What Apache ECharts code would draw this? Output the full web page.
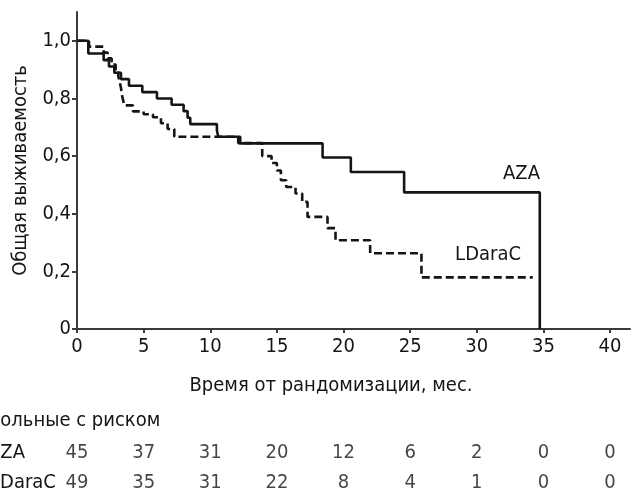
<!DOCTYPE html>
<html>
<head>
<meta charset="utf-8">
<script src="https://cdn.jsdelivr.net/npm/echarts@6/dist/echarts.min.js"></script>
<style>
html,body{margin:0;padding:0;background:#fff;}
#c{width:631px;height:493px;}
</style>
</head>
<body>
<div id="c"></div>
<script>
// ---- data ----
const xTicks = [0, 5, 10, 15, 20, 25, 30, 35, 40];
const yTicks = [0, 0.2, 0.4, 0.6, 0.8, 1.0];
const azaTime = [0, 0.85, 2.0, 2.4, 2.8, 3.3, 3.9, 4.9, 6.0, 7.1, 8.0, 8.3, 8.5, 10.5, 10.6, 12.25, 18.43, 20.55, 24.55, 34.73];
const azaSurv = [1.0, 0.956, 0.933, 0.911, 0.889, 0.867, 0.844, 0.822, 0.800, 0.778, 0.756, 0.733, 0.711, 0.689, 0.667, 0.644, 0.595, 0.545, 0.474, 0.0];
const ldaTime = [0, 0.9, 2.0, 2.3, 2.6, 2.9, 3.1, 3.2, 3.3, 3.35, 3.45, 3.55, 4.2, 5.0, 5.7, 6.3, 6.8, 7.3, 12.1, 13.9, 14.6, 15.0, 15.3, 15.7, 16.4, 16.9, 17.3, 18.8, 19.4, 22.0, 25.85, 34.2];
const ldaSurv = [1.0, 0.980, 0.959, 0.939, 0.918, 0.898, 0.878, 0.857, 0.837, 0.816, 0.796, 0.776, 0.755, 0.745, 0.735, 0.714, 0.694, 0.667, 0.645, 0.600, 0.576, 0.550, 0.516, 0.493, 0.470, 0.441, 0.389, 0.350, 0.308, 0.263, 0.179, 0.179];
const riskRows = ['AZA', 'LDaraC'];
const riskAZA = [45, 37, 31, 20, 12, 6, 2, 0, 0];
const riskLDaraC = [49, 35, 31, 22, 8, 4, 1, 0, 0];
const yAxisTitle = 'Общая выживаемость';
const xAxisTitle = 'Время от рандомизации, мес.';
const riskTitle = 'Больные с риском';

// ---- chart ----
const FONT = "'DejaVu Sans Condensed', 'Liberation Sans Narrow', sans-serif";
const FS = 20;
const INK = '#151515';
const AXIS = '#3a3a3a';

const zip = (a, b) => a.map((v, i) => [v, b[i]]);
const riskData = [];
riskAZA.forEach((n, i) => riskData.push([xTicks[i], riskRows[0], n]));
riskLDaraC.forEach((n, i) => riskData.push([xTicks[i], riskRows[1], n]));

const chart = echarts.init(document.getElementById('c'), null, {renderer: 'canvas'});
chart.setOption({
  animation: false,
  backgroundColor: '#ffffff',
  textStyle: {fontFamily: FONT},
  grid: [
    {left: 77, right: 1, top: 12, bottom: 164, containLabel: false, outerBoundsMode: 'none'},
    {left: 77, right: 1, top: 438, height: 60, containLabel: false, outerBoundsMode: 'none'}
  ],
  xAxis: [
    {
      type: 'value', gridIndex: 0, min: 0, max: 41.5, interval: 5,
      splitLine: {show: false},
      axisLine: {show: true, onZero: false, lineStyle: {color: AXIS, width: 2}},
      axisTick: {show: true, length: 4, customValues: xTicks, lineStyle: {color: AXIS, width: 2}},
      axisLabel: {customValues: xTicks, margin: 8, color: INK, fontSize: FS, fontFamily: FONT}
    },
    {
      type: 'value', gridIndex: 1, min: 0, max: 41.5, show: false
    }
  ],
  yAxis: [
    {
      type: 'value', gridIndex: 0, min: 0, max: 1.1, interval: 0.2,
      splitLine: {show: false},
      axisLine: {show: true, onZero: false, lineStyle: {color: AXIS, width: 2}},
      axisTick: {show: true, length: 5, customValues: yTicks, lineStyle: {color: AXIS, width: 2}},
      axisLabel: {
        customValues: yTicks, margin: 6, color: INK, fontSize: FS, fontFamily: FONT,
        formatter: v => v === 0 ? '0' : v.toFixed(1).replace('.', ',')
      },
      name: yAxisTitle, nameLocation: 'middle', nameGap: 46, nameRotate: 90,
      nameTextStyle: {color: INK, fontSize: FS, fontFamily: FONT}
    },
    {
      type: 'category', gridIndex: 1, data: riskRows, inverse: true, show: false
    }
  ],
  series: [
    {
      name: 'LDaraC', type: 'line', step: 'end', xAxisIndex: 0, yAxisIndex: 0,
      data: zip(ldaTime, ldaSurv), showSymbol: false, symbol: 'none',
      lineStyle: {color: INK, width: 2.6, type: [8, 4]}, z: 3
    },
    {
      name: 'AZA', type: 'line', step: 'end', xAxisIndex: 0, yAxisIndex: 0,
      data: zip(azaTime, azaSurv), showSymbol: false, symbol: 'none',
      lineStyle: {color: INK, width: 2.6}, z: 4
    },
    {
      type: 'scatter', xAxisIndex: 1, yAxisIndex: 1, symbolSize: 0,
      data: riskData, silent: true,
      label: {show: true, position: 'inside', formatter: p => String(p.data[2]),
        color: INK, fontSize: FS, fontFamily: FONT}
    }
  ],
  graphic: [
    {type: 'text', x: 331, y: 386, style: {text: xAxisTitle, fill: INK, font: FS + 'px ' + FONT, align: 'center', verticalAlign: 'middle'}},
    {type: 'text', x: -12, y: 421, style: {text: riskTitle, fill: INK, font: FS + 'px ' + FONT, verticalAlign: 'middle'}},
    {type: 'text', x: -12, y: 453, style: {text: riskRows[0], fill: INK, font: FS + 'px ' + FONT, verticalAlign: 'middle'}},
    {type: 'text', x: -10, y: 483, style: {text: riskRows[1], fill: INK, font: FS + 'px ' + FONT, verticalAlign: 'middle'}},
    {type: 'text', x: 540, y: 174, style: {text: 'AZA', fill: INK, font: FS + 'px ' + FONT, align: 'right', verticalAlign: 'middle'}},
    {type: 'text', x: 521, y: 255, style: {text: 'LDaraC', fill: INK, font: FS + 'px ' + FONT, align: 'right', verticalAlign: 'middle'}}
  ]
});
</script>
</body>
</html>
